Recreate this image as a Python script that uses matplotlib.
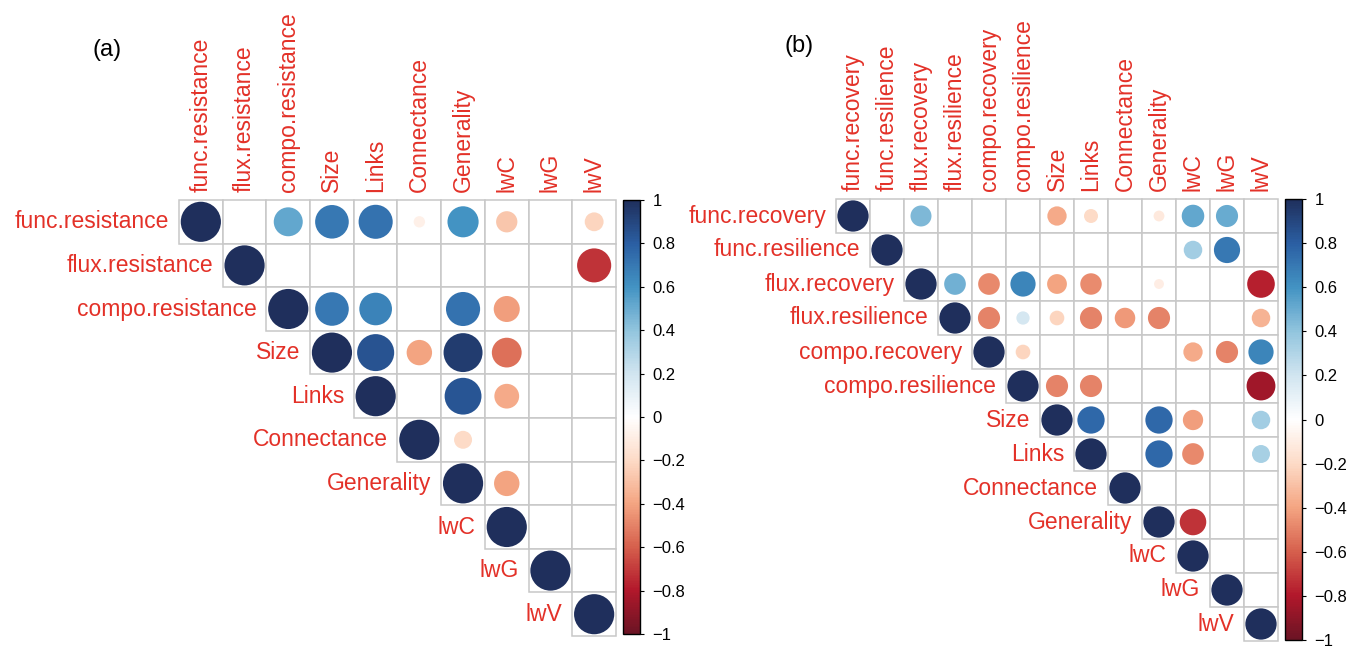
import numpy as np
import matplotlib.pyplot as plt
from matplotlib.colors import LinearSegmentedColormap, Normalize
from matplotlib.patches import Circle, Rectangle
import matplotlib.colorbar as mcolorbar

nan = np.nan

# panel (a): upper triangle, row i holds columns i..n-1 (nan = blank cell)
names_a = ["func.resistance", "flux.resistance", "compo.resistance", "Size", "Links",
           "Connectance", "Generality", "lwC", "lwG", "lwV"]
rows_a = [
    [1, nan, 0.52, 0.70, 0.72, -0.08, 0.60, -0.28, nan, -0.22],
    [1, nan, nan, nan, nan, nan, nan, nan, -0.72],
    [1, 0.70, 0.66, nan, 0.72, -0.42, nan, nan],
    [1, 0.85, -0.40, 0.94, -0.55, nan, nan],
    [1, nan, 0.84, -0.38, nan, nan],
    [1, -0.20, nan, nan, nan],
    [1, -0.40, nan, nan],
    [1, nan, nan],
    [1, nan],
    [1],
]

# panel (b)
names_b = ["func.recovery", "func.resilience", "flux.recovery", "flux.resilience",
           "compo.recovery", "compo.resilience", "Size", "Links", "Connectance",
           "Generality", "lwC", "lwG", "lwV"]
rows_b = [
    [1, nan, 0.45, nan, nan, nan, -0.38, -0.20, nan, -0.12, 0.52, 0.50, nan],
    [1, nan, nan, nan, nan, nan, nan, nan, nan, 0.35, 0.70, nan],
    [1, 0.48, -0.48, 0.65, -0.40, -0.47, nan, -0.10, nan, nan, -0.78],
    [1, -0.50, 0.18, -0.22, -0.50, -0.43, -0.50, nan, nan, -0.35],
    [1, -0.22, nan, nan, nan, nan, -0.38, -0.50, 0.65],
    [1, -0.50, -0.50, nan, nan, nan, nan, -0.85],
    [1, 0.76, nan, 0.76, -0.42, nan, 0.35],
    [1, nan, 0.76, -0.48, nan, 0.33],
    [1, nan, nan, nan, nan],
    [1, -0.72, nan, nan],
    [1, nan, nan],
    [1, nan],
    [1],
]

cbar_ticks = [-1, -0.8, -0.6, -0.4, -0.2, 0, 0.2, 0.4, 0.6, 0.8, 1]

# corrplot-like RdBu
cmap = LinearSegmentedColormap.from_list("corr", [
    "#6B1424", "#B2182B", "#D6604D", "#F4A582", "#FDDBC7", "#FFFFFF",
    "#D1E5F0", "#92C5DE", "#4393C3", "#2B5FA3", "#1F2F5C"])
norm = Normalize(-1, 1)

plt.rcParams['font.family'] = ['Liberation Sans', 'DejaVu Sans']
LABEL_COL = "#E33128"
GRID_COL = "#C8C8C8"

W, H = 1367, 654
fig = plt.figure(figsize=(W / 100, H / 100), dpi=100)


def px_axes(x0, y0, x1, y1):
    return fig.add_axes([x0 / W, 1 - y1 / H, (x1 - x0) / W, (y1 - y0) / H])


def draw_panel(ax, names, rows):
    n = len(names)
    ax.set_xlim(0, n)
    ax.set_ylim(n, 0)
    ax.axis('off')
    for i, row in enumerate(rows):
        for k, v in enumerate(row):
            j = i + k
            ax.add_patch(Rectangle((j, i), 1, 1, facecolor='white', edgecolor=GRID_COL,
                                   lw=1.1, clip_on=False))
            if not np.isnan(v):
                ax.add_patch(Circle((j + 0.5, i + 0.5), 0.46 * np.sqrt(abs(v)),
                                    facecolor=cmap(norm(v)), edgecolor='none', zorder=3))
    for j, name in enumerate(names):
        ax.annotate(name, (j + 0.5, 0), xytext=(0, 6), textcoords='offset points',
                    rotation=90, ha='center', va='bottom', color=LABEL_COL,
                    fontsize=16.5, annotation_clip=False)
        ax.annotate(name, (j, j + 0.5), xytext=(-7, 0), textcoords='offset points',
                    ha='right', va='center', color=LABEL_COL, fontsize=16.5,
                    annotation_clip=False)


def draw_cbar(cax):
    cb = mcolorbar.ColorbarBase(cax, cmap=cmap, norm=norm, ticks=cbar_ticks)
    cb.set_ticklabels(["\u22121" if t == -1 else ("1" if t == 1 else
                       ("0" if t == 0 else f"{t:g}".replace("-", "\u2212")))
                       for t in cbar_ticks])
    cb.outline.set_linewidth(1.0)
    cax.tick_params(labelsize=12, length=3, width=0.8, direction='out', pad=6)


ax_a = px_axes(179, 200, 616, 636)
draw_panel(ax_a, names_a, rows_a)
draw_cbar(px_axes(623, 200, 640, 634))

ax_b = px_axes(836, 199, 1278, 641)
draw_panel(ax_b, names_b, rows_b)
draw_cbar(px_axes(1285, 199, 1302, 640))

fig.text(107 / W, 1 - 50 / H, "(a)", fontsize=17, ha='center', va='center')
fig.text(799 / W, 1 - 46 / H, "(b)", fontsize=17, ha='center', va='center')

fig.savefig("out.png", dpi=100)
